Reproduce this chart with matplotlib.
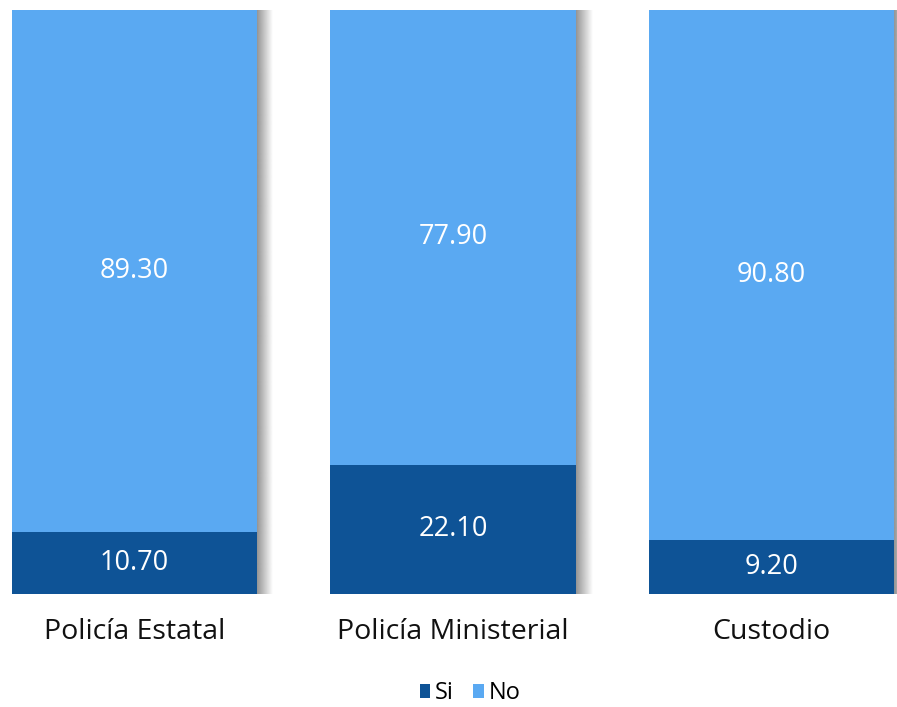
import matplotlib
matplotlib.use("Agg")
import matplotlib.pyplot as plt
import numpy as np

categories = ["Policía Estatal", "Policía Ministerial", "Custodio"]
si = [10.70, 22.10, 9.20]
no = [89.30, 77.90, 90.80]
c_si = "#0E5396"
c_no = "#5AA9F2"

plt.rcParams['font.family'] = ['Open Sans', 'DejaVu Sans']

fig = plt.figure(figsize=(8.97, 7.07), dpi=100)
ax = fig.add_axes([0, 113/707, 1, (697-113)/707])
x = np.arange(len(categories))
w = 0.77
px = 318.5
ax.set_xlim(-134.5/px, (897-134.5)/px)
ax.set_ylim(0, 100)

bs = ax.bar(x, si, width=w, color=c_si, zorder=3, label="Si")
bn = ax.bar(x, no, bottom=si, width=w, color=c_no, zorder=3, label="No")

# soft shadow on the right side and top of each column
grad = np.linspace(0.7, 0.0, 64).reshape(1, -1)
for b, n in zip(bs, no):
    x1 = b.get_x() + b.get_width()
    top = b.get_height() + n
    ax.imshow(np.ones((1, 64, 3)) * 0.4, alpha=grad, aspect='auto',
              extent=(x1, x1 + 16/px, 0, top), zorder=2, interpolation='bilinear')
    gv = np.linspace(0.0, 0.35, 16).reshape(-1, 1)
    ax.imshow(np.ones((16, 1, 3)) * 0.4, alpha=gv, aspect='auto',
              extent=(b.get_x() + 8/px, x1, top, top + 1.0), zorder=2, interpolation='bilinear')

for i in range(len(categories)):
    ax.text(x[i], si[i]/2, f"{si[i]:.2f}", ha='center', va='center', color='white', fontsize=19.5, zorder=4)
    ax.text(x[i], si[i] + no[i]/2, f"{no[i]:.2f}", ha='center', va='center', color='white', fontsize=19.5, zorder=4)

ax.set_xticks(x)
ax.set_xticklabels(categories, fontsize=20.5, color='#111111')
ax.tick_params(axis='x', length=0, pad=17)
ax.set_yticks([])
for s in ax.spines.values():
    s.set_visible(False)

fig.legend(handles=[bs, bn], labels=["Si", "No"], loc='center', bbox_to_anchor=(470/897, 1-693/707),
           ncol=2, frameon=False, fontsize=17, handlelength=0.45, handleheight=0.55,
           handletextpad=0.2, columnspacing=0.8)

fig.savefig("out.png", dpi=100)
